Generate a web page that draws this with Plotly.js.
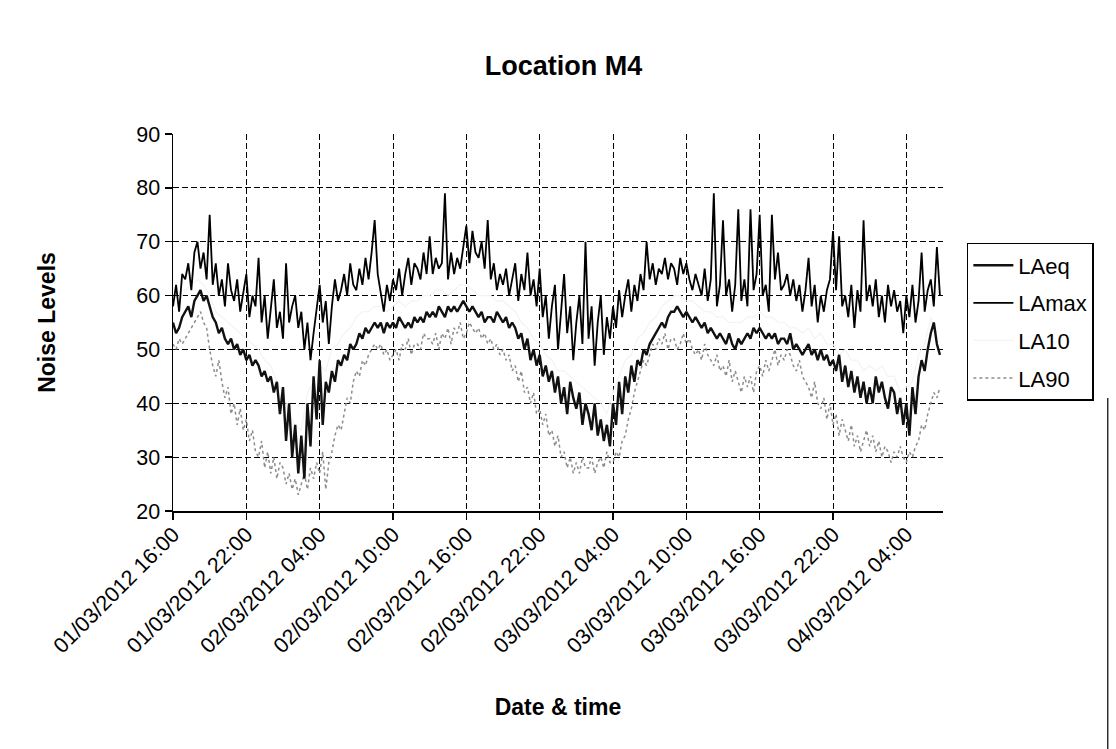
<!DOCTYPE html>
<html>
<head>
<meta charset="utf-8">
<script src="https://cdn.plot.ly/plotly-3.0.1.min.js"></script>
<style>html,body{margin:0;padding:0;background:#fff;}#chart{width:1116px;height:749px;}</style>
</head>
<body>
<div id="chart"></div>
<script>
// 15-minute readings starting 01/03/2012 16:00 (one row = one hour)
const startTime = '2012-03-01 16:00:00';
const LAeq = [
55,53,54,56, 57,58,56,59, 60,61,59,60, 58,56,55,53, 54,52,51,52, 50,51,49,50,
48,49,47,48, 47,45,46,44, 45,42,44,38, 43,33,40,30, 36,27,34,26, 40,32,45,37,
48,36,44,42, 46,44,48,47, 49,48,51,50, 51,53,52,54, 53,54,55,54, 55,53,55,54,
55,54,56,55, 54,55,54,56, 55,56,55,57, 56,57,56,58, 57,56,58,57, 58,57,58,59,
58,57,58,57, 56,57,55,56, 56,55,57,56, 55,56,54,55, 54,52,53,50, 52,48,50,47,
49,45,47,44, 46,42,45,40, 43,38,44,41, 39,42,36,40, 38,35,40,34, 37,33,36,32,
40,36,44,38, 45,42,47,44, 48,47,50,49, 51,52,53,54, 55,54,56,57, 57,58,57,56,
57,56,55,56, 55,54,55,53, 54,53,52,53, 52,51,53,51, 50,52,51,52, 53,52,54,53,
54,53,52,53, 52,53,51,52, 52,51,53,50, 51,50,49,50, 51,49,50,48, 50,48,49,47,
48,46,49,44, 47,43,46,42, 45,41,44,40, 43,40,45,42, 44,41,39,43, 42,38,41,36,
40,34,43,38, 45,48,46,50, 53,55,51,49
];
const LAmax = [
58,62,57,64, 63,66,61,68, 70,65,68,63, 75,62,66,60, 63,58,66,61, 59,63,57,61,
64,56,60,58, 67,55,60,52, 58,63,54,57, 52,66,55,58, 60,54,57,50, 55,48,53,58,
62,55,59,51, 58,63,59,61, 64,60,66,62, 61,65,62,67, 63,68,74,64, 60,57,62,59,
63,61,65,60, 64,67,62,66, 65,63,68,64, 71,64,67,65, 66,79,63,68, 64,67,65,69,
73,66,72,68, 67,70,65,74, 63,66,61,64, 62,65,60,63, 66,59,64,61, 68,60,63,58,
65,56,60,52, 58,62,50,57, 64,53,58,48, 55,60,51,70, 52,58,47,55, 60,49,56,52,
58,54,61,56, 60,63,57,62, 59,64,61,70, 63,66,62,65, 64,67,63,66, 65,62,67,64,
66,63,61,64, 62,60,65,59, 63,79,58,62, 74,60,63,57, 62,76,59,63, 58,76,61,64,
75,60,62,57, 75,63,68,61, 62,64,60,63, 59,62,57,61, 67,58,62,55, 60,57,61,63,
72,61,71,58, 60,56,62,54, 61,57,74,59, 62,58,63,56, 60,55,62,58, 61,57,59,53,
60,56,62,55, 59,68,57,61, 63,58,69,60
];
const LA90 = [
51,50,52,51, 52,53,54,55, 56,57,55,54, 50,47,45,48, 44,41,43,38, 40,36,39,35,
37,33,35,31, 30,33,28,31, 27,30,26,29, 28,25,27,24, 26,23,25,27, 24,28,26,29,
27,31,24,29, 31,34,36,35, 38,41,40,44, 46,45,48,47, 49,50,51,50, 51,49,50,48,
49,50,48,51, 50,52,49,51, 51,50,53,52, 52,51,53,50, 53,52,54,51, 54,53,55,52,
53,55,54,53, 54,52,53,51, 52,50,51,49, 50,48,49,46, 47,44,46,42, 43,40,42,38,
39,36,38,34, 35,32,34,30, 31,28,30,27, 29,27,30,28, 28,30,27,29, 30,28,31,29,
29,31,30,33, 34,37,39,42, 44,46,48,47, 49,51,50,52, 51,53,50,52, 52,50,51,53,
51,52,50,49, 50,48,51,49, 48,47,49,46, 47,45,48,44, 46,44,42,45, 43,45,42,46,
47,45,48,46, 48,50,47,49, 48,50,49,47, 46,48,45,44, 43,41,44,40, 39,41,37,40,
36,38,34,37, 35,33,36,32, 34,31,33,35, 32,34,31,33, 30,32,31,29, 31,30,32,30,
29,31,30,32, 33,36,35,38, 40,42,41,43
];
// 30-minute readings
const LA10 = [
58,59, 61,62, 63,62, 60,57, 56,55, 54,53, 52,51, 50,48, 47,44, 42,38, 36,35, 42,44,
47,46, 50,51, 53,54, 56,57, 57,58, 58,57, 58,59, 58,59, 59,60, 60,61, 61,60, 61,62,
62,61, 60,60, 60,59, 59,58, 57,55, 54,52, 51,49, 48,46, 46,45, 44,43, 42,41, 40,38,
42,45, 48,49, 52,53, 55,56, 58,59, 60,60, 59,59, 58,57, 57,56, 56,55, 55,55, 56,56,
57,56, 56,55, 55,54, 54,53, 54,52, 53,51, 51,49, 50,48, 48,46, 47,46, 47,45, 45,42,
43,44, 49,51, 56,53
];
const seriesNames = ['LAeq', 'LAmax', 'LA10', 'LA90'];
const yTicks = [20, 30, 40, 50, 60, 70, 80, 90];

const FONT = 'Liberation Sans, Arial, sans-serif';
const QUARTER = 15 * 60 * 1000;
const HALF = 30 * 60 * 1000;

const traces = [
  {name: seriesNames[2], y: LA10, x0: startTime, dx: HALF, type: 'scatter', mode: 'lines',
   line: {color: '#f3f3f3', width: 1.2}, legendrank: 3, legendgroup: 'c'},
  {name: seriesNames[3], y: LA90, x0: startTime, dx: QUARTER, type: 'scatter', mode: 'lines',
   line: {color: '#8c8c8c', width: 1.5, dash: 'dot'}, legendrank: 4, legendgroup: 'd'},
  {name: seriesNames[0], y: LAeq, x0: startTime, dx: QUARTER, type: 'scatter', mode: 'lines',
   line: {color: '#111111', width: 2.4}, legendrank: 1, legendgroup: 'a'},
  {name: seriesNames[1], y: LAmax, x0: startTime, dx: QUARTER, type: 'scatter', mode: 'lines',
   line: {color: '#000000', width: 1.8}, legendrank: 2, legendgroup: 'b'}
];

const layout = {
  width: 1116, height: 749,
  margin: {l: 173, r: 173, t: 134, b: 238},
  paper_bgcolor: '#fff', plot_bgcolor: '#fff',
  font: {family: FONT, color: '#000', size: 20},
  showlegend: true,
  title: {text: 'Location M4', font: {family: FONT, size: 27, weight: 'bold', color: '#000'},
          x: 0.505, xref: 'container', y: 0.913, yref: 'container', yanchor: 'middle'},
  xaxis: {
    type: 'date',
    range: ['2012-03-01 16:00:00', '2012-03-04 07:00:00'],
    tick0: startTime, dtick: 6 * 3600 * 1000,
    tickformat: '%d/%m/%Y %H:%M', tickangle: -45,
    tickfont: {family: FONT, size: 21.5, color: '#000'},
    ticklabelstandoff: -6,
    ticks: 'outside', ticklen: 7, tickcolor: '#000', tickwidth: 1.5,
    showline: true, linecolor: '#000', linewidth: 1.5,
    showgrid: true, gridcolor: '#000', gridwidth: 1, griddash: '6px,3px',
    zeroline: false, automargin: false,
    title: {text: 'Date & time', font: {family: FONT, size: 23, weight: 'bold', color: '#000'}, standoff: 42}
  },
  yaxis: {
    range: [20, 90], tickvals: yTicks,
    tickfont: {family: FONT, size: 21.5, color: '#000'},
    ticks: 'outside', ticklen: 7, tickcolor: '#000', tickwidth: 1.5,
    showline: true, linecolor: '#000', linewidth: 1.5,
    showgrid: true, gridcolor: '#000', gridwidth: 1, griddash: '6px,3px',
    zeroline: false, automargin: false,
    title: {text: 'Noise Levels', font: {family: FONT, size: 23, weight: 'bold', color: '#000'}, standoff: 74}
  },
  legend: {
    x: 1.031, xanchor: 'left', y: 0.711, yanchor: 'top',
    bgcolor: '#fff', bordercolor: '#000', borderwidth: 1.5,
    font: {family: FONT, size: 22, color: '#000'},
    itemwidth: 40,
    traceorder: 'grouped', tracegroupgap: 6
  },
  shapes: [
    {type: 'line', xref: 'paper', yref: 'paper', x0: 1.214, x1: 1.214, y0: 0.30, y1: -0.64,
     line: {color: '#000', width: 1.2}}
  ]
};

Plotly.newPlot('chart', traces, layout, {displayModeBar: false, staticPlot: true});
</script>
</body>
</html>
